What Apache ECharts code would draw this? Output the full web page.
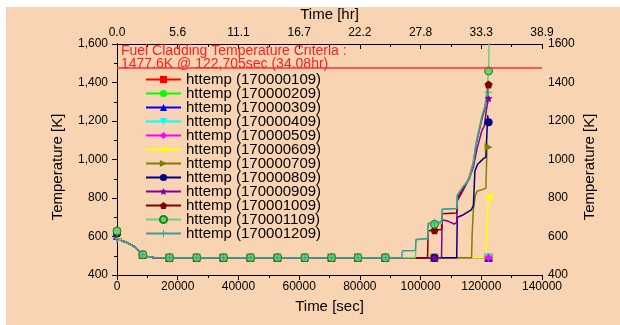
<!DOCTYPE html>
<html>
<head>
<meta charset="utf-8">
<script src="https://cdn.jsdelivr.net/npm/echarts@6/dist/echarts.min.js"></script>
<style>
  html, body { margin: 0; padding: 0; background: #fff; }
  #chart { width: 620px; height: 325px; }
</style>
</head>
<body>
<div id="chart"></div>
<script>
// node ids of the 12 cladding heat structures
const nodeIds = ['170000109', '170000209', '170000309', '170000409', '170000509', '170000609',
                 '170000709', '170000809', '170000909', '170001009', '170001109', '170001209'];

// temperature at t = 0 (K)
const startTemps = [622, 612, 602, 590, 596, 600, 608, 615, 620, 632, 628, 588];

// shared cool-down to the 490 K plateau [sec, K]
const earlyCool = [[1500, 578], [3000, 570], [4500, 558], [6000, 545], [7500, 520], [8500, 505],
  [10000, 495], [12000, 491], [17300, 490], [26300, 490], [35100, 490], [44000, 490],
  [52900, 490], [61900, 490], [70700, 490], [79400, 490], [88400, 490]];

// heat-up part of each curve [sec, K]
const tail109 = [[104600, 490], [122400, 490]];
const tail209 = [[104600, 490], [122400, 490]];
const tail309 = [[104600, 490], [122400, 490]];
const tail409 = [[104600, 490], [122400, 490]];
const tail509 = [[104600, 490], [122400, 490]];
const tail609 = [[104600, 490], [121500, 490], [121800, 620], [122100, 740], [122400, 807]];
const tail709 = [[104600, 490], [116800, 490], [117000, 620], [117400, 740], [118000, 810], [118600, 835],
  [121500, 850], [121700, 960], [121900, 1080], [122400, 1063]];
const tail809 = [[104600, 490], [111900, 490], [112100, 700], [114000, 712], [116700, 738], [117400, 760],
  [117900, 940], [118800, 975], [120800, 1006], [121500, 1012], [121900, 1150], [122100, 1230], [122400, 1193]];
const tail909 = [[104600, 490], [106900, 490], [107100, 686], [109000, 680], [111000, 665], [111900, 672],
  [112100, 785], [114000, 840], [116000, 900], [117400, 960], [118500, 1050], [120200, 1150],
  [121000, 1175], [121700, 1260], [122400, 1318]];
const tail1009 = [[102300, 490], [102500, 630], [104600, 632], [106900, 636], [107100, 718], [111900, 722],
  [112100, 798], [114000, 850], [116000, 905], [117400, 985], [118300, 1080], [120200, 1210],
  [121200, 1265], [121800, 1330], [122400, 1390]];
const tail1109 = [[98300, 490], [98500, 583], [102300, 588], [102500, 660], [104600, 664], [106900, 668],
  [107100, 742], [111900, 746], [112100, 815], [114000, 860], [116000, 900], [117400, 985],
  [118300, 1090], [120200, 1225], [121200, 1278], [121800, 1360], [122400, 1460], [122705, 1700]];
const tail1209 = [[93800, 490], [94000, 526], [98300, 527], [98500, 585], [102300, 590], [102500, 669],
  [104600, 672], [106900, 676], [107100, 741], [111900, 745], [112100, 815], [114000, 858],
  [116000, 895], [117400, 980], [118300, 1084], [120200, 1222], [121200, 1274], [121800, 1320], [122400, 1350]];

const tails = [tail109, tail209, tail309, tail409, tail509, tail609,
               tail709, tail809, tail909, tail1009, tail1109, tail1209];

// times where the symbols are drawn
const markerTimes = [0, 8500, 17300, 26300, 35100, 44000, 52900, 61900, 70700, 79400, 88400, 104600, 122400];

const criteriaTemp = 1477.6;

const colors = ['#ff0000', '#00ff00', '#0000ff', '#00ffff', '#ff00ff', '#ffff00',
                '#808000', '#000080', '#8000a0', '#800000', '#108a10', '#3a9c9c'];
const star = 'path://M0,-10L2.9,-4L9.5,-3.1L4.7,1.5L5.9,8.1L0,5L-5.9,8.1L-4.7,1.5L-9.5,-3.1L-2.9,-4Z';
const pentagon = 'path://M0,-10L9.5,-3.1L5.9,8.1L-5.9,8.1L-9.5,-3.1Z';
const plus = 'path://M-1.2,-10H1.2V-1.2H10V1.2H1.2V10H-1.2V1.2H-10V-1.2H-1.2Z';
const symbols = ['rect', 'circle', 'triangle', 'triangle', 'diamond', 'triangle',
                 'triangle', 'circle', star, pentagon, 'circle', plus];
const rotates = [0, 0, 0, 180, 0, 90, -90, 0, 0, 0, 0, 0];

const font = 'Liberation Sans, Arial, sans-serif';
const markSet = new Set(markerTimes);

let chart = echarts.init(document.getElementById('chart'));

let series = nodeIds.map((id, i) => ({
  name: 'httemp (' + id + ')',
  type: 'line',
  data: [[0, startTemps[i]]].concat(earlyCool, tails[i]),
  color: colors[i],
  lineStyle: { width: 1.5 },
  symbol: symbols[i],
  symbolRotate: rotates[i],
  symbolSize: (v) => markSet.has(v[0]) ? 8 : 0,
  showSymbol: true,
  itemStyle: i === 10 ? { borderColor: '#108a10', borderWidth: 1, color: '#6fcf6f' } : {},
  animation: false
}));

// criteria line on the first series
series[0].markLine = {
  silent: true,
  symbol: 'none',
  label: { show: false },
  lineStyle: { color: '#ff3030', type: 'solid', width: 1.5 },
  emphasis: { disabled: true },
  data: [{ yAxis: criteriaTemp }]
};

let axisLine = { lineStyle: { color: '#000', width: 1 } };
let label = { color: '#000', fontSize: 12, fontFamily: font };

chart.setOption({
  animation: false,
  textStyle: { fontFamily: font },
  grid: { left: 117, right: 78, top: 44, bottom: 50 },
  xAxis: [{
    type: 'value', position: 'bottom', min: 0, max: 140000, interval: 20000,
    name: 'Time [sec]', nameLocation: 'middle', nameGap: 24,
    nameTextStyle: { color: '#000', fontSize: 15, fontFamily: font },
    axisLine: axisLine,
    axisTick: { inside: false, length: 5, lineStyle: { color: '#000' } },
    minorTick: { show: true, splitNumber: 2, length: 3, lineStyle: { color: '#000' } },
    axisLabel: Object.assign({ margin: 6, formatter: (v) => String(v) }, label),
    splitLine: { show: false }
  }, {
    type: 'value', position: 'top', min: 0, max: 140000, interval: 20000,
    name: 'Time [hr]', nameLocation: 'middle', nameGap: 21,
    nameTextStyle: { color: '#000', fontSize: 15, fontFamily: font },
    axisLine: axisLine,
    axisTick: { inside: true, length: 5, lineStyle: { color: '#000' } },
    minorTick: { show: true, splitNumber: 2, length: 3, lineStyle: { color: '#000' } },
    axisLabel: Object.assign({ margin: 5, formatter: (v) => (v / 3600).toFixed(1) }, label),
    splitLine: { show: false }
  }],
  yAxis: [{
    type: 'value', position: 'left', min: 400, max: 1600, interval: 200,
    axisLine: axisLine,
    axisTick: { inside: false, length: 5, lineStyle: { color: '#000' } },
    minorTick: { show: true, splitNumber: 2, length: 3, lineStyle: { color: '#000' } },
    axisLabel: Object.assign({ margin: 9, formatter: (v) => v.toLocaleString('en-US') }, label),
    splitLine: { show: false }
  }, {
    type: 'value', position: 'right', min: 400, max: 1600, interval: 200,
    axisLine: axisLine,
    axisTick: { inside: true, length: 5, lineStyle: { color: '#000' } },
    minorTick: { show: true, splitNumber: 2, length: 3, lineStyle: { color: '#000' } },
    axisLabel: Object.assign({ margin: 6, formatter: (v) => String(v) }, label),
    splitLine: { show: false }
  }],
  legend: {
    data: nodeIds.map((id) => 'httemp (' + id + ')'),
    orient: 'vertical', left: 140, top: 67,
    itemWidth: 35, itemHeight: 9, itemGap: -1,
    textStyle: { color: '#000', fontSize: 15, lineHeight: 14, fontFamily: font }
  },
  graphic: [
    { type: 'rect', left: 6, top: 7, z: -10, shape: { width: 614, height: 318 }, style: { fill: '#f9d4b2' } },
    { type: 'text', left: 121, top: 44, z: 10,
      style: { text: 'Fuel Cladding Temperature Criteria :\n1477.6K @ 122,705sec (34.08hr)',
               fill: '#ff2020', fontSize: 14, lineHeight: 13, fontFamily: font } },
    { type: 'text', x: 58, y: 167, rotation: Math.PI / 2,
      style: { text: 'Temperature [K]', fill: '#000', fontSize: 15, fontFamily: font, align: 'center', verticalAlign: 'middle' } },
    { type: 'text', x: 590, y: 167, rotation: Math.PI / 2,
      style: { text: 'Temperature [K]', fill: '#000', fontSize: 15, fontFamily: font, align: 'center', verticalAlign: 'middle' } }
  ],
  series: series
});
</script>
</body>
</html>
